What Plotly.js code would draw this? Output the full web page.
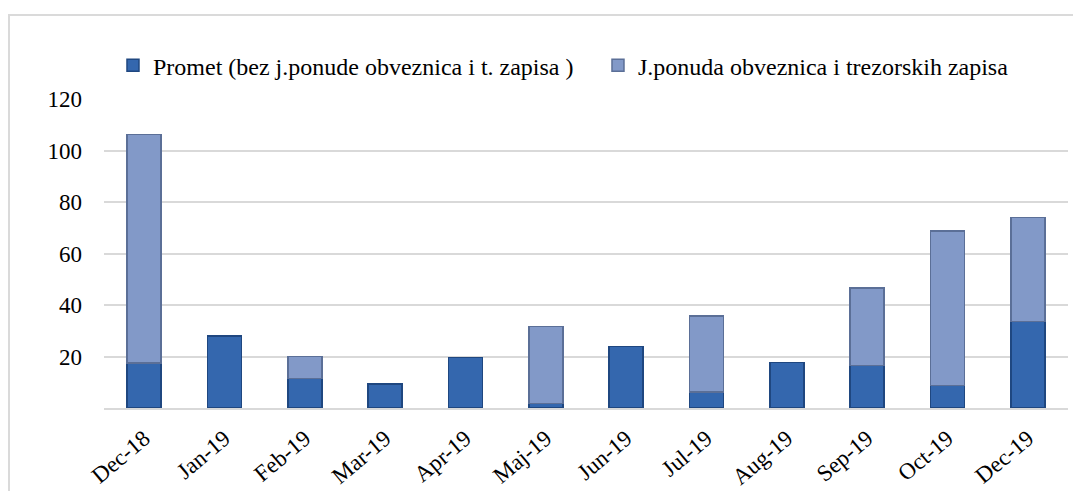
<!DOCTYPE html>
<html>
<head>
<meta charset="utf-8">
<script src="https://cdn.plot.ly/plotly-3.0.1.min.js"></script>
<style>
  html, body { margin: 0; padding: 0; background: #ffffff; overflow: hidden; }
  #chart { position: absolute; left: 0; top: 0; width: 1073px; height: 491px; }
  #frame { position: absolute; left: 8px; top: 14px; width: 2000px; height: 2000px;
           border-left: 2px solid #dadada; border-top: 2px solid #dadada; pointer-events: none; }
</style>
</head>
<body>
<div id="chart"></div>
<div id="frame"></div>
<script>
const categories = ["Dec-18", "Jan-19", "Feb-19", "Mar-19", "Apr-19", "Maj-19",
                    "Jun-19", "Jul-19", "Aug-19", "Sep-19", "Oct-19", "Dec-19"];
const prometValues = [17.5, 27.9, 11.5, 9.3, 19.7, 1.8, 23.9, 6.2, 17.7, 16.6, 8.7, 33.6];
const ponudaValues = [88.7, null, 8.5, null, null, 29.9, null, 29.6, null, 30.1, 60.0, 40.3];
const seriesNames = ["Promet (bez j.ponude obveznica i t. zapisa )",
                     "J.ponuda obveznica i trezorskih zapisa"];
const yTickVals = [20, 40, 60, 80, 100, 120];

const FONT = "Liberation Serif";

const traces = [
  {
    type: "bar",
    name: seriesNames[0],
    x: categories,
    y: prometValues,
    legendwidth: 440,
    marker: { color: "#3467ae", line: { color: "#1f4780", width: 1.5 } },
    hoverinfo: "x+y+name"
  },
  {
    type: "bar",
    name: seriesNames[1],
    x: categories,
    y: ponudaValues,
    legendwidth: 380,
    marker: { color: "#8299c8", line: { color: "#5b6f97", width: 1.5 } },
    hoverinfo: "x+y+name"
  }
];

const layout = {
  width: 1073,
  height: 491,
  barmode: "stack",
  bargap: 0.575,
  paper_bgcolor: "rgba(0,0,0,0)",
  plot_bgcolor: "rgba(0,0,0,0)",
  font: { family: FONT, size: 23, color: "#000000" },
  margin: { l: 104, r: 5, t: 99, b: 83.3, autoexpand: false },
  showlegend: true,
  legend: {
    orientation: "h",
    xref: "container",
    yref: "container",
    x: 0.1053,
    xanchor: "left",
    y: 0.912,
    yanchor: "top",
    font: { family: FONT, size: 24, color: "#000000" },
    bgcolor: "rgba(0,0,0,0)",
    traceorder: "normal"
  },
  xaxis: {
    type: "category",
    tickangle: -40,
    showgrid: false,
    showline: true,
    linecolor: "#d9d9d9",
    linewidth: 2,
    ticks: "",
    ticklabelstandoff: 6,
    tickfont: { family: FONT, size: 23, color: "#000000" },
    fixedrange: true
  },
  yaxis: {
    range: [0, 120],
    tickvals: yTickVals,
    ticktext: yTickVals.map(String),
    showgrid: true,
    gridcolor: "#d9d9d9",
    gridwidth: 2,
    zeroline: false,
    showline: false,
    ticks: "",
    ticklabelstandoff: 21,
    tickfont: { family: FONT, size: 23, color: "#000000" },
    fixedrange: true
  }
};

Plotly.newPlot("chart", traces, layout, { displayModeBar: false, staticPlot: true });
</script>
</body>
</html>
